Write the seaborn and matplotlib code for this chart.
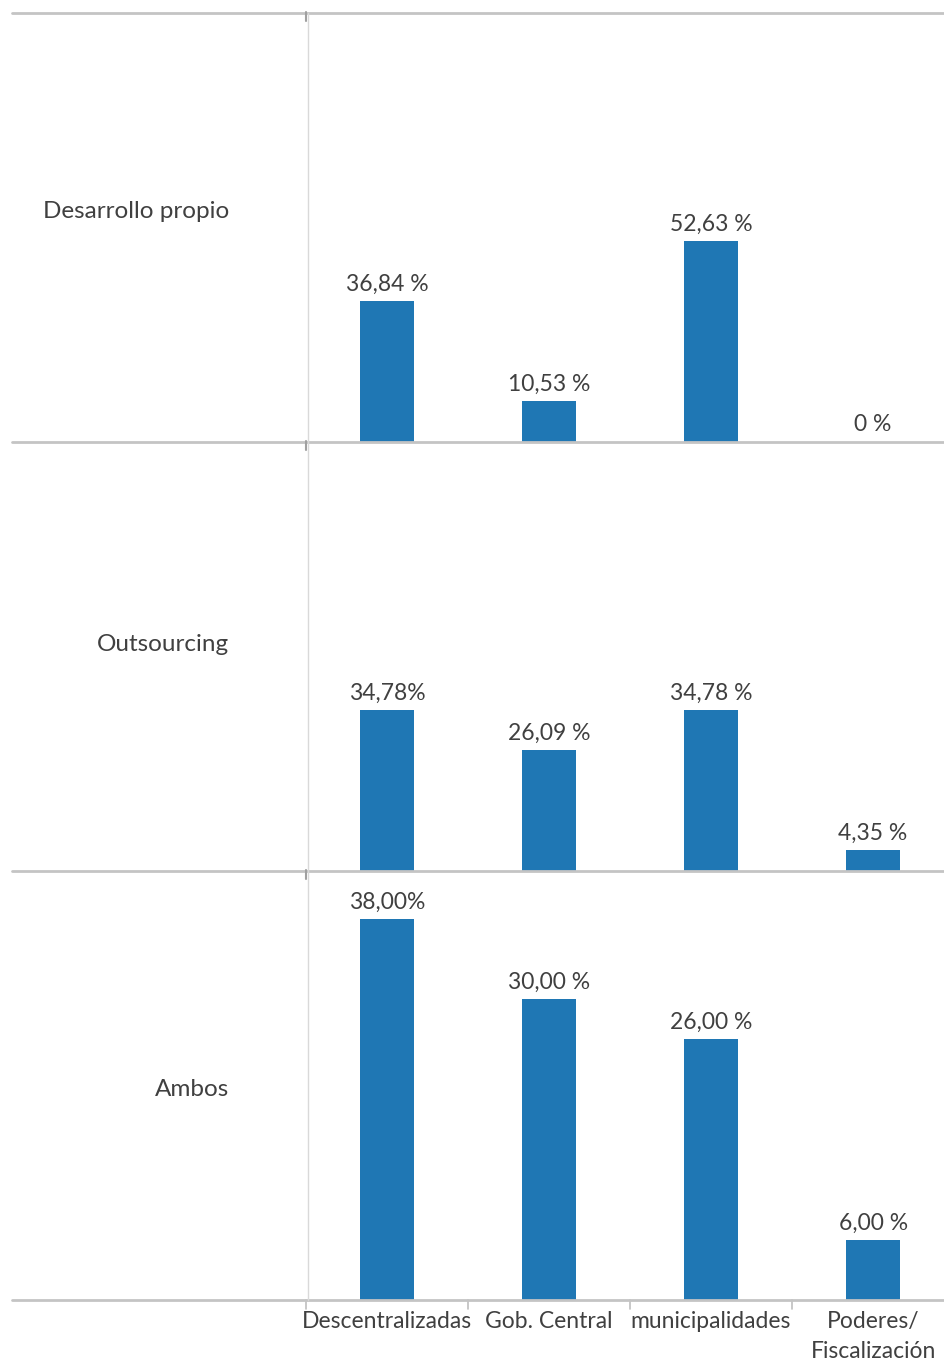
import matplotlib
matplotlib.use("Agg")
import matplotlib.pyplot as plt
from matplotlib.lines import Line2D
import seaborn as sns
import pandas as pd

# ---- data ----
categories = ["Descentralizadas", "Gob. Central", "municipalidades", "Poderes/\nFiscalización"]
groups = ["Desarrollo propio", "Outsourcing", "Ambos"]
desarrollo = [36.84, 10.53, 52.63, 0.0]
outsourcing = [34.78, 26.09, 34.78, 4.35]
ambos = [38.00, 30.00, 26.00, 6.00]
desarrollo_lbl = ["36,84 %", "10,53 %", "52,63 %", "0 %"]
outsourcing_lbl = ["34,78%", "26,09 %", "34,78 %", "4,35 %"]
ambos_lbl = ["38,00%", "30,00 %", "26,00 %", "6,00 %"]

series = [desarrollo, outsourcing, ambos]
series_lbl = [desarrollo_lbl, outsourcing_lbl, ambos_lbl]

# ---- style ----
sns.set_theme(style="white")
plt.rcParams["font.family"] = ["Lato", "DejaVu Sans"]
TXT = "#404040"
BAR = "#1F77B4"
FS = 16.5

W, H = 945, 1363
fig = plt.figure(figsize=(W / 100, H / 100), dpi=100)

ymax = [112.6, 93.0, 42.8]
edges_px = [13, 441.5, 870.5, 1300]
ax_left_px, ax_right_px = 306, 945

for i, (g, vals, lbls) in enumerate(zip(groups, series, series_lbl)):
    top, bot = edges_px[i], edges_px[i + 1]
    ax = fig.add_axes([ax_left_px / W, 1 - bot / H, (ax_right_px - ax_left_px) / W, (bot - top) / H])
    df = pd.DataFrame({"cat": categories, "val": vals})
    sns.barplot(data=df, x="cat", y="val", ax=ax, color=BAR, width=0.33,
                saturation=1, edgecolor=BAR, linewidth=0)
    ax.set_xlim(-0.5, 3.444)
    ax.set_ylim(0, ymax[i])
    for s in ax.spines.values():
        s.set_visible(False)
    ax.set_ylabel("")
    ax.set_xlabel("")
    ax.set_yticks([])
    ax.patch.set_alpha(0)
    for p, t in zip(ax.patches, lbls):
        ax.annotate(t, (p.get_x() + p.get_width() / 2, p.get_height()),
                    xytext=(0, 4.5), textcoords="offset points", ha="center", va="bottom",
                    fontsize=FS, color=TXT)
    # row label
    ax.text(229 / W, 1 - ([212, 645, 1089][i]) / H, g, transform=fig.transFigure,
            ha="right", va="center", fontsize=17.5, color=TXT)
    if i < 2:
        ax.set_xticks([])
    else:
        ax.set_xticks(range(len(categories)))
        ax.set_xticklabels(categories, fontsize=FS, color=TXT, linespacing=1.5)
        ax.tick_params(axis="x", length=0, pad=8)
        # separator ticks
        for xs in [-0.5, 0.5, 1.5, 2.5]:
            ax.plot([xs, xs], [0, -0.02], transform=ax.get_xaxis_transform(),
                    color="#bfbfbf", lw=1.2, clip_on=False)

# horizontal rules
for y in edges_px:
    fig.add_artist(Line2D([12 / W, 1], [1 - y / H, 1 - y / H], color="#c4c4c4", lw=2))
# vertical axis line
fig.add_artist(Line2D([307.5 / W, 307.5 / W], [1 - 13 / H, 1 - 1300 / H], color="#d9d9d9", lw=1))
for y in edges_px[:3]:
    fig.add_artist(Line2D([306 / W, 306 / W], [1 - (y - 1) / H, 1 - (y + 8) / H], color="#a0a0a0", lw=1.5))

fig.savefig("out.png", dpi=100)
